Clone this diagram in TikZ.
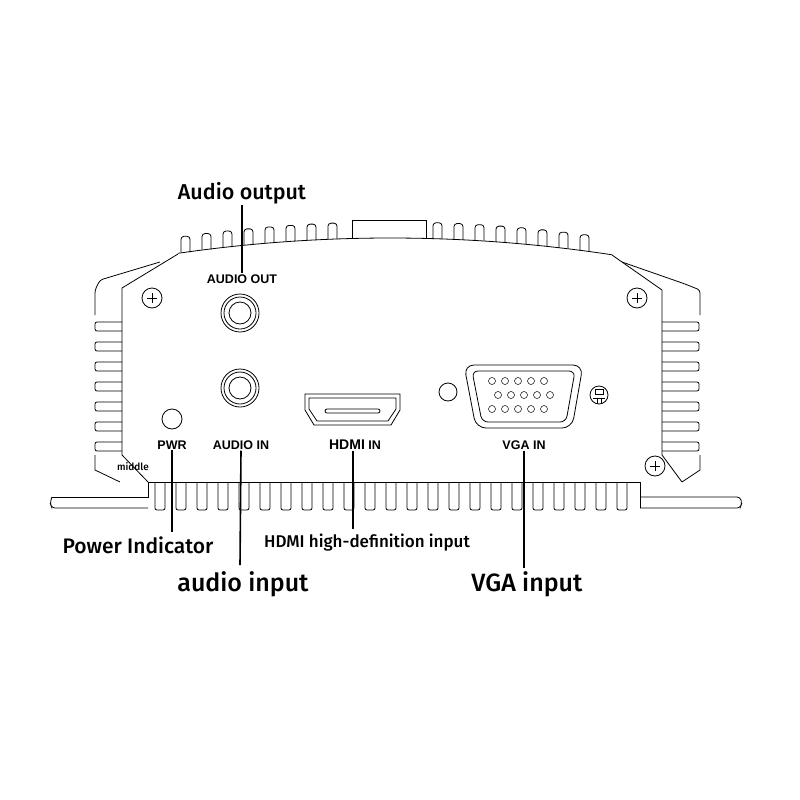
\documentclass[tikz,border=0pt]{standalone}
\usepackage{fontspec}
\setmainfont{Liberation Sans}
\newfontfamily\callfont{Fira Sans Medium}
\begin{document}
\begin{tikzpicture}[x=1pt, y=-1pt, line width=0.8pt,
  panel/.style={font=\bfseries\fontsize{12.5}{14}\selectfont, inner sep=0.75pt},
  call/.style={font=\callfont\fontsize{21.5}{24}\selectfont, inner sep=0.75pt},
  lead/.style={line width=1.6pt}]
\useasboundingbox (0, 0) rectangle (800, 800);
\draw[draw=none, fill=white] (0, 0) rectangle (800, 800);
% top fins
\foreach \fx in {181, 202, ..., 580} {
  \pgfmathsetmacro{\fy}{238 + ((\fx + 4 - 390)/230)^2*18}
  \ifdim\fx pt<345pt
    \draw[rounded corners=3pt] (\fx, \fy) -- (\fx, \fy - 16) -- (\fx + 9, \fy - 16) -- (\fx + 9, \fy);
  \else\ifdim\fx pt>428pt
    \draw[rounded corners=3pt] (\fx, \fy) -- (\fx, \fy - 16) -- (\fx + 9, \fy - 16) -- (\fx + 9, \fy);
  \fi\fi
}
\draw (352, 239) -- (352, 220) -- (426, 220) -- (426, 239);
% top edge
\draw[domain=178:612, samples=40] plot (\x, {238 + ((\x - 390)/230)^2*18});
% left flange and fins
\draw (178, 254) -- (122, 288) -- (122, 455) -- (148, 482);
\draw[rounded corners=3pt] (160, 262) -- (100, 280) -- (95, 290) -- (95, 315);
\draw (95, 455) -- (95, 470) -- (120, 482);
\foreach \fy in {322, 342, ..., 442}
  \draw[rounded corners=2pt] (122, \fy) -- (95, \fy) -- (95, \fy + 9) -- (122, \fy + 9);
% right flange and fins
\draw (612, 255) -- (662, 290) -- (662, 455) -- (682, 482);
\draw[rounded corners=3pt] (622, 262) -- (685, 284) -- (700, 290) -- (700, 315);
\draw (700, 455) -- (700, 470) -- (682, 482);
\foreach \fy in {322, 342, ..., 442}
  \draw[rounded corners=2pt] (662, \fy) -- (699, \fy) -- (699, \fy + 9) -- (662, \fy + 9);
% bottom base
\draw (148, 482) -- (640, 482);
\draw[rounded corners=3pt] (52, 497) -- (50, 503) -- (52, 508) -- (148, 508);
\draw (52, 497) -- (148, 497) -- (148, 482);
\draw[rounded corners=3pt] (640, 497) -- (740, 497) -- (742, 503) -- (740, 508) -- (640, 508);
\draw (640, 482) -- (640, 508);
\foreach \fx in {155, 176, ..., 630}
  \draw[rounded corners=2pt] (\fx, 482) -- (\fx, 510) -- (\fx + 10, 510) -- (\fx + 10, 482);
% screws
\foreach \sx/\sy in {152/298, 637/298, 655/466} {
  \draw (\sx, \sy) circle (10);
  \draw (\sx - 5, \sy) -- (\sx + 5, \sy) (\sx, \sy - 5) -- (\sx, \sy + 5);
}
% audio jacks
\foreach \jy in {313, 388} {
  \draw (240, \jy) circle (19);
  \draw (240, \jy) circle (16);
  \draw (240, \jy) circle (11);
}
% power LED
\draw (172, 419) circle (10);
% HDMI
\draw (305, 394) -- (400, 394) -- (400, 410) -- (391, 425) -- (314, 425) -- (305, 410) -- cycle;
\draw (309, 398) -- (396, 398) -- (396, 409) -- (388, 421) -- (317, 421) -- (309, 409) -- cycle;
\draw[rounded corners=2pt] (325, 409) rectangle (380, 413);
% small circle
\draw (448, 392) circle (9);
% VGA
\draw[rounded corners=10pt] (464, 365) -- (583, 365) -- (572, 428) -- (476, 428) -- cycle;
\draw[rounded corners=6pt] (472, 371) -- (575, 371) -- (566, 422) -- (482, 422) -- cycle;
\foreach \px in {0, ..., 4} {
  \draw[line width=0.5pt] (492 + \px*13, 381) circle (3.5);
  \draw[line width=0.5pt] (498 + \px*13, 395) circle (3.5);
  \draw[line width=0.5pt] (492 + \px*13, 409) circle (3.5);
}
% lock
\draw (599, 395) circle (9);
\draw[line width=0.5pt] (595, 389) rectangle (603, 394) (593, 398) -- (605, 398) (597, 398) -- (597, 404) (601, 398) -- (601, 404);
% panel labels
\node[panel] (aoutlbl) at (242, 279) {AUDIO OUT};
\node[panel] (pwrlbl) at (172, 445) {PWR};
\node[panel] (ainlbl) at (241, 445) {AUDIO IN};
\node[panel] (hdmilbl) at (355, 445) {{\fontsize{14}{14}\selectfont HDMI} IN};
\node[panel] (vgalbl) at (524, 445) {VGA IN};
\node[font=\callfont\fontsize{10}{11}\selectfont, inner sep=0.5pt] (middle) at (133, 467) {middle};
% callouts
\node[call] (aoutcall) at (242, 193) {Audio output};
\node[call, font=\callfont\fontsize{21}{24}\selectfont] (pwrcall) at (138, 545) {Power Indicator};
\node[call, font=\callfont\fontsize{17}{19}\selectfont] (hdmicall) at (367, 543) {HDMI high-definition input};
\node[call, font=\callfont\fontsize{25}{28}\selectfont] (aincall) at (243, 584) {audio input};
\node[call, font=\callfont\fontsize{25}{28}\selectfont] (vgacall) at (527, 584) {VGA input};
\coordinate (pwrend) at (172, 532);
\coordinate (ainend) at (240, 565);
\coordinate (hdmiend) at (353, 529);
\coordinate (vgaend) at (524, 568);
\draw[lead] (aoutcall.south -| aoutlbl.north) -- (aoutlbl.north);
\draw[lead] (pwrlbl.south) -- (pwrend);
\draw[lead] (ainlbl.south) -- (ainend);
\draw[lead] (hdmilbl.south -| hdmiend) -- (hdmiend);
\draw[lead] (vgalbl.south) -- (vgaend);
\end{tikzpicture}
\end{document}
